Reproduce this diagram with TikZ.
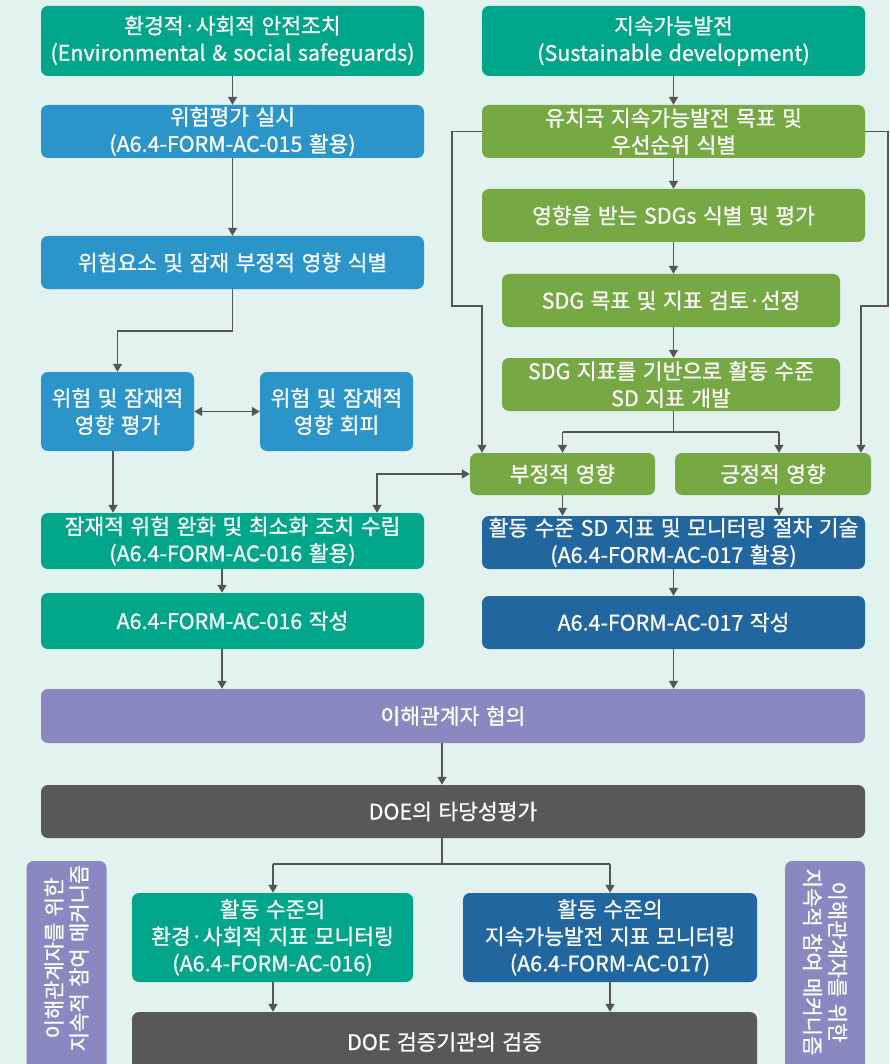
\documentclass[tikz,border=0pt]{standalone}
\usepackage{fontspec}
\setmainfont{Noto Sans CJK KR}[FakeBold=0.9, WordSpace=1.35]
\usetikzlibrary{arrows.meta,calc}
\definecolor{bgc}{RGB}{226,242,238}
\definecolor{teal}{RGB}{0,166,138}
\definecolor{skyb}{RGB}{43,149,201}
\definecolor{leaf}{RGB}{118,168,67}
\definecolor{navy}{RGB}{33,102,159}
\definecolor{lilac}{RGB}{137,136,192}
\definecolor{slate}{RGB}{88,88,90}
\definecolor{linec}{RGB}{85,85,85}
\begin{document}
\begin{tikzpicture}[x=1pt,y=-1pt,
  box/.style={rounded corners=7pt, text=white, align=center, inner sep=0pt,
    font=\fontsize{21.5}{27}\selectfont},
  sidebox/.style={rounded corners=7pt, fill=lilac, minimum width=80pt},
  conn/.style={draw=linec, line width=1.3pt},
  arr/.style={conn, -{Triangle[width=9pt,length=8pt]}},
  arrtwo/.style={conn, {Triangle[width=9pt,length=8pt]}-{Triangle[width=9pt,length=8pt]}}]
\path[use as bounding box] (0,0) rectangle (889,1064);
\clip (0,0) rectangle (889,1064);
\fill[bgc] (0,0) rectangle (889,1064);
% left column
\node[box, fill=teal, minimum width=383pt, minimum height=70pt] (b1) at (232.5,41) {환경적·사회적 안전조치\\(Environmental \& social safeguards)};
\node[box, fill=skyb, minimum width=383pt, minimum height=53pt] (b3) at (232.5,131.5) {위험평가 실시\\(A6.4-FORM-AC-015 활용)};
\node[box, fill=skyb, minimum width=383pt, minimum height=53pt] (b4) at (232.5,262.5) {위험요소 및 잠재 부정적 영향 식별};
\node[box, fill=skyb, minimum width=153pt, minimum height=79pt] (b5) at (117.5,411.5) {위험 및 잠재적\\영향 평가};
\node[box, fill=skyb, minimum width=153pt, minimum height=79pt] (b6) at (336.5,411.5) {위험 및 잠재적\\영향 회피};
\node[box, fill=teal, minimum width=383pt, minimum height=56pt] (b7) at (232.5,541) {잠재적 위험 완화 및 최소화 조치 수립\\(A6.4-FORM-AC-016 활용)};
\node[box, fill=teal, minimum width=383pt, minimum height=56pt] (b8) at (232.5,621) {A6.4-FORM-AC-016 작성};
% right column
\node[box, fill=teal, minimum width=383pt, minimum height=70pt] (b2) at (673.5,41) {지속가능발전\\(Sustainable development)};
\node[box, fill=leaf, minimum width=383pt, minimum height=53pt] (b9) at (673.5,131.5) {유치국 지속가능발전 목표 및\\우선순위 식별};
\node[box, fill=leaf, minimum width=383pt, minimum height=53pt] (b10) at (673.5,215.5) {영향을 받는 SDGs 식별 및 평가};
\node[box, fill=leaf, minimum width=338pt, minimum height=53pt] (b11) at (671,300.5) {SDG 목표 및 지표 검토·선정};
\node[box, fill=leaf, minimum width=338pt, minimum height=53pt] (b12) at (671,384.5) {SDG 지표를 기반으로 활동 수준\\SD 지표 개발};
\node[box, fill=leaf, minimum width=185pt, minimum height=42pt] (b13) at (562.5,474) {부정적 영향};
\node[box, fill=leaf, minimum width=196pt, minimum height=42pt] (b14) at (773,474) {긍정적 영향};
\node[box, fill=navy, minimum width=383pt, minimum height=53pt] (b15) at (673.5,542.5) {활동 수준 SD 지표 및 모니터링 절차 기술\\(A6.4-FORM-AC-017 활용)};
\node[box, fill=navy, minimum width=383pt, minimum height=53pt] (b16) at (673.5,622.5) {A6.4-FORM-AC-017 작성};
% bottom
\node[box, fill=lilac, minimum width=824pt, minimum height=54pt] (b17) at (453,716) {이해관계자 협의};
\node[box, fill=slate, minimum width=824pt, minimum height=53pt] (b18) at (453,811.5) {DOE의 타당성평가};
\node[box, fill=teal, minimum width=281pt, minimum height=89pt] (b19) at (272.5,937.5) {활동 수준의\\환경·사회적 지표 모니터링\\(A6.4-FORM-AC-016)};
\node[box, fill=navy, minimum width=294pt, minimum height=89pt] (b20) at (610,937.5) {활동 수준의\\지속가능발전 지표 모니터링\\(A6.4-FORM-AC-017)};
\node[box, fill=slate, minimum width=625pt, minimum height=60pt] (b21) at (444.5,1042) {DOE 검증기관의 검증};
% side boxes
\node[sidebox, minimum height=215pt] (sl) at (66.5,968.5) {};
\node[sidebox, minimum height=215pt] (sr) at (825,968.5) {};
\node[box, rotate=90, font=\fontsize{21}{25}\selectfont] (slt) at (66.5,958) {이해관계자를 위한\\지속적 참여 메커니즘};
\node[box, rotate=-90, font=\fontsize{21}{25}\selectfont] (srt) at (825,962) {이해관계자를 위한\\지속적 참여 메커니즘};
% coordinates
\coordinate (k1) at (232.5,331);
\coordinate (k2) at (673.5,432);
\coordinate (k3) at (562.5,432);
\coordinate (k4) at (779,432);
\coordinate (l1) at (452,131.5);
\coordinate (l2) at (452,306);
\coordinate (l3) at (482,306);
\coordinate (r1) at (888,131.5);
\coordinate (r2) at (888,306);
\coordinate (r3) at (861,306);
\coordinate (m1) at (442,864);
\coordinate (m2) at (273,864);
\coordinate (m3) at (610,864);
% connectors left
\draw[arr] (b1) -- (b3);
\draw[arr] (b3) -- (b4);
\draw[conn] (b4.south) -- (k1);
\draw[arr] (k1) -| (b5.north);
\draw[arrtwo] (b5.east) -- (b6.west);
\draw[arr] (b5.south -| 113,0) -- (b7.north -| 113,0);
\draw[arrtwo] (b7.north -| 377,0) |- (b13.west);
\draw[arr] (b7.south -| 222,0) -- (b8.north -| 222,0);
\draw[arr] (b8.south -| 222,0) -- (b17.north -| 222,0);
% connectors right
\draw[arr] (b2) -- (b9);
\draw[arr] (b9) -- (b10);
\draw[arr] (b10.south -| 673.5,0) -- (b11.north -| 673.5,0);
\draw[arr] (b11.south -| 673.5,0) -- (b12.north -| 673.5,0);
\draw[conn] (b12.south -| 673.5,0) -- (k2);
\draw[conn] (k3) -- (k4);
\draw[arr] (k3) -- (b13.north);
\draw[arr] (k4) -- (b14.north -| k4);
\draw[arr] (b9.west) -- (l1) -- (l2) -- (l3) -- (b13.north -| l3);
\draw[arr] (b9.east) -- (r1) -- (r2) -- (r3) -- (b14.north -| r3);
\draw[arr] (b13.south -| 562.5,0) -- (b15.north -| 562.5,0);
\draw[arr] (b14.south -| 779,0) -- (b15.north -| 779,0);
\draw[arr] (b15.south -| 673.5,0) -- (b16.north -| 673.5,0);
\draw[arr] (b16.south -| 673.5,0) -- (b17.north -| 673.5,0);
% bottom connectors
\draw[arr] (b17.south -| 442,0) -- (b18.north -| 442,0);
\draw[conn] (b18.south -| m1) -- (m1);
\draw[conn] (m2) -- (m3);
\draw[arr] (m2) -- (b19.north -| m2);
\draw[arr] (m3) -- (b20.north -| m3);
\draw[arr] (b19.south -| m2) -- (b21.north -| m2);
\draw[arr] (b20.south -| m3) -- (b21.north -| m3);
\end{tikzpicture}
\end{document}
